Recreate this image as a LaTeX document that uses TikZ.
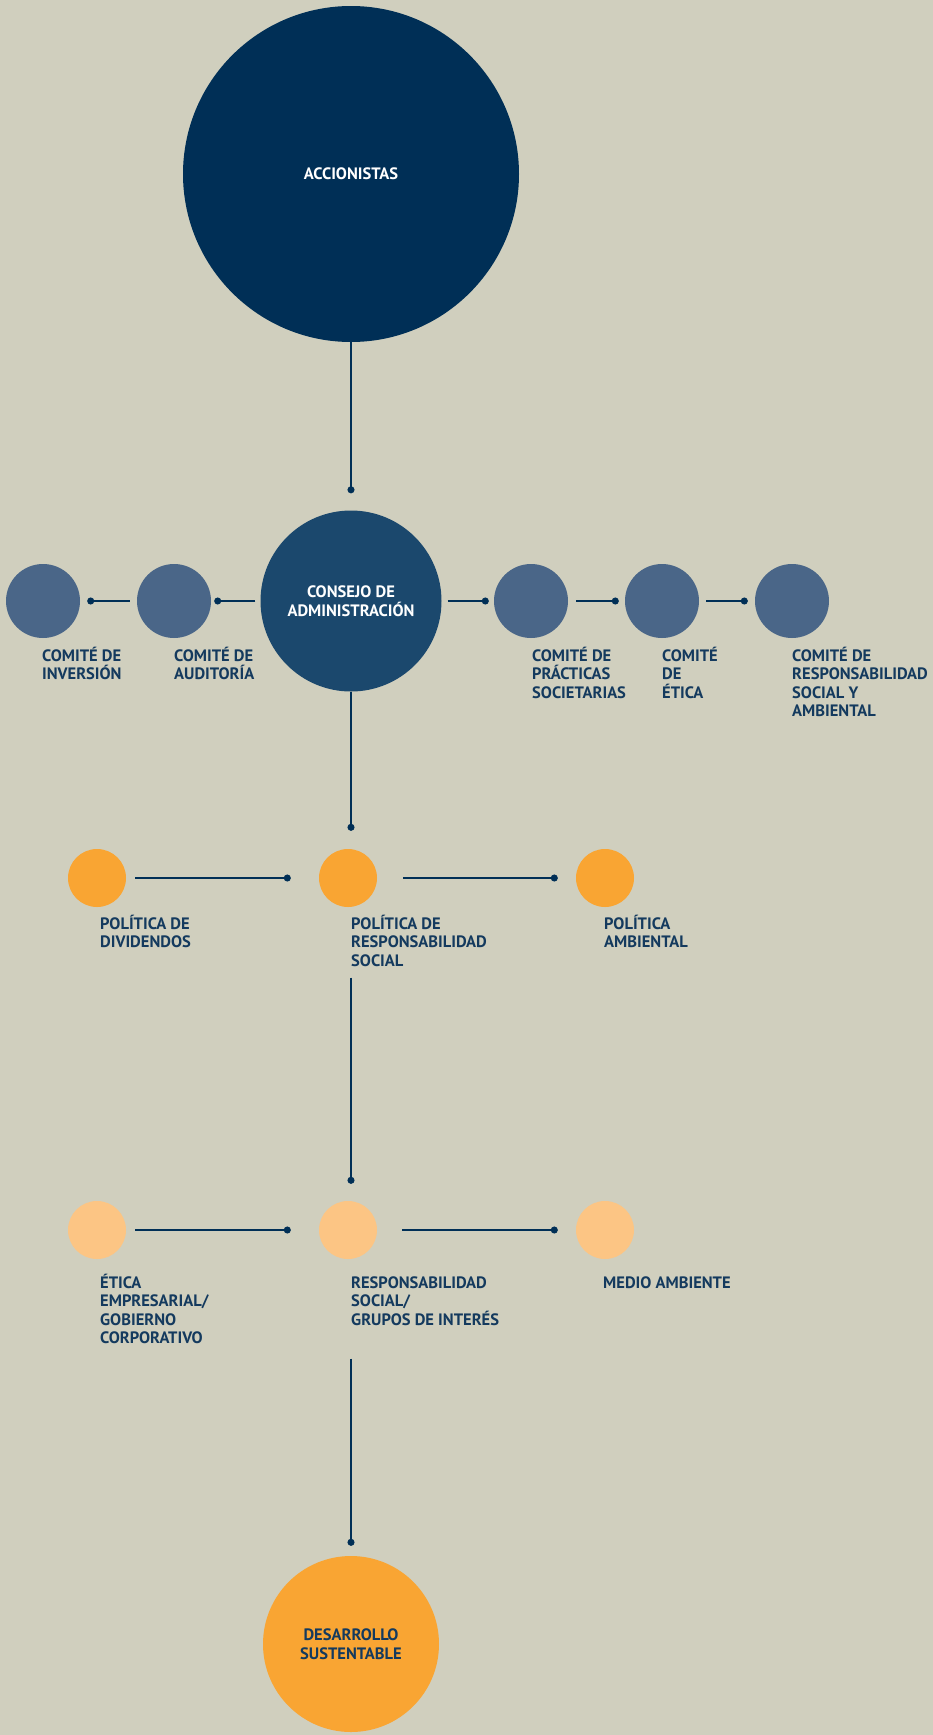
\documentclass[tikz,border=0pt]{standalone}
\usepackage{fontspec}
\setmainfont{PT Sans}
\usetikzlibrary{arrows.meta}
\definecolor{fondo}{HTML}{D0CFBE}
\definecolor{marino}{HTML}{002F56}
\definecolor{consejo}{HTML}{1B486D}
\definecolor{comite}{HTML}{4A6688}
\definecolor{naranja}{HTML}{F9A533}
\definecolor{claro}{HTML}{FCC584}
\definecolor{texto}{HTML}{143A5E}
\newcommand{\lh}{\rule{0pt}{16pt}}

\begin{document}
\begin{tikzpicture}[x=1pt,y=-1pt]
  \tikzset{circ/.style={circle,inner sep=0pt,minimum size=#1},
           txt/.style={font=\bfseries\fontsize{16.5}{18.5}\selectfont,align=center},
           lbl/.style={txt,anchor=north west,align=left,inner sep=0pt,text=texto},
           link/.style={draw=marino,line width=1.2pt,-{Circle[length=7pt]}}}
  \fill[fondo] (0,0) rectangle (933,1735);
  % accionistas y consejo
  \node [circ=336pt,fill=marino,text=white,txt] (acc) at (351,174) {ACCIONISTAS};
  \node [circ=181pt,fill=consejo,text=white,txt] (cons) at (351,601) {CONSEJO DE\\ADMINISTRACIÓN};
  % comites
  \node [circ=74pt,fill=comite] (inv) at (43,601) {};
  \node [circ=74pt,fill=comite] (aud) at (174,601) {};
  \node [circ=74pt,fill=comite] (pra) at (531,601) {};
  \node [circ=74pt,fill=comite] (eti) at (662,601) {};
  \node [circ=74pt,fill=comite] (rsa) at (792,601) {};
  \node [lbl] (invl) at (42,645) {\lh COMITÉ DE\\INVERSIÓN};
  \node [lbl] (audl) at (174,645) {\lh COMITÉ DE\\AUDITORÍA};
  \node [lbl] (pral) at (532,645) {\lh COMITÉ DE\\PRÁCTICAS\\SOCIETARIAS};
  \node [lbl] (etil) at (662,645) {\lh COMITÉ\\DE\\ÉTICA};
  \node [lbl] (rsal) at (792,645) {\lh COMITÉ DE\\RESPONSABILIDAD\\SOCIAL Y\\AMBIENTAL};
  % politicas
  \node [circ=58pt,fill=naranja] (div) at (97,878) {};
  \node [circ=58pt,fill=naranja] (polrs) at (348,878) {};
  \node [circ=58pt,fill=naranja] (amb) at (605,878) {};
  \node [lbl] (divl) at (100,913) {\lh POLÍTICA DE\\DIVIDENDOS};
  \node [lbl] (polrsl) at (351,913) {\lh POLÍTICA DE\\RESPONSABILIDAD\\SOCIAL};
  \node [lbl] (ambl) at (604,913) {\lh POLÍTICA\\AMBIENTAL};
  % temas
  \node [circ=58pt,fill=claro] (etemp) at (97,1230) {};
  \node [circ=58pt,fill=claro] (rsgi) at (348,1230) {};
  \node [circ=58pt,fill=claro] (med) at (605,1230) {};
  \node [lbl] (etempl) at (100,1272) {\lh ÉTICA\\EMPRESARIAL/\\GOBIERNO\\CORPORATIVO};
  \node [lbl] (rsgil) at (351,1272) {\lh RESPONSABILIDAD\\SOCIAL/\\GRUPOS DE INTERÉS};
  \node [lbl] (medl) at (603,1272) {\lh MEDIO AMBIENTE};
  \node [circ=176pt,fill=naranja,text=texto,txt] (des) at (351,1644) {DESARROLLO\\SUSTENTABLE};
  % conectores
  \draw [link,shorten >=17pt] (acc.south) -- (cons.north);
  \draw [link,shorten <=5pt,shorten >=3pt] (cons) -- (aud);
  \draw [link,shorten <=7pt,shorten >=7pt] (aud) -- (inv);
  \draw [link,shorten <=6pt,shorten >=5pt] (cons) -- (pra);
  \draw [link,shorten <=8pt,shorten >=6pt] (pra) -- (eti);
  \draw [link,shorten <=7pt,shorten >=7pt] (eti) -- (rsa);
  \draw [link,shorten >=18pt] (cons.south) -- (cons.south |- polrs.north);
  \draw [link,shorten <=9pt,shorten >=28pt] (div) -- (polrs);
  \draw [link,shorten <=26pt,shorten >=18pt] (polrs) -- (amb);
  \draw [link,shorten <=11pt,shorten >=17pt] (polrsl.south west) -- (polrsl.south west |- rsgi.north);
  \draw [link,shorten <=9pt,shorten >=28pt] (etemp) -- (rsgi);
  \draw [link,shorten <=25pt,shorten >=18pt] (rsgi) -- (med);
  \draw [link,shorten <=33pt,shorten >=10pt] (rsgil.south west) -- (rsgil.south west |- des.north);
\end{tikzpicture}
\end{document}
